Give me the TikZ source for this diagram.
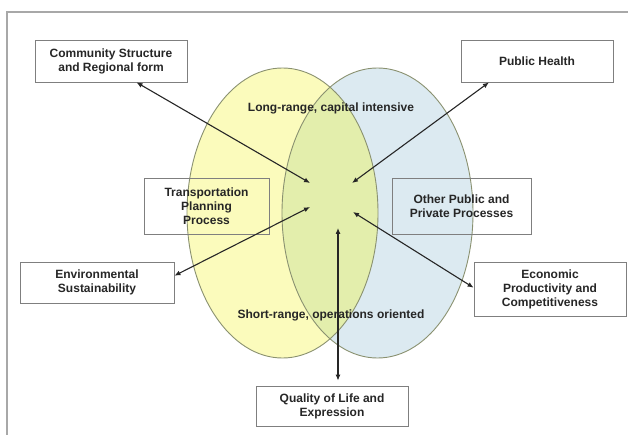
\documentclass[tikz,border=0pt]{standalone}
\usepackage{fontspec}
\setmainfont{Liberation Sans}
\usetikzlibrary{positioning, arrows.meta, calc}
\definecolor{vnyellow}{HTML}{FBFBBC}
\definecolor{vnblue}{HTML}{DCEAF1}
\definecolor{vnmix}{HTML}{E3EEAC}
\definecolor{vnedge}{HTML}{8A9170}
\definecolor{boxedge}{HTML}{7F7F7F}
\definecolor{framegray}{HTML}{A8A8A8}
\definecolor{txtdark}{HTML}{262626}

\begin{document}
\begin{tikzpicture}[x=1pt, y=-1pt,
    factor/.style={draw=boxedge, fill=white, line width=0.8pt, align=center, inner sep=2pt,
                   text=txtdark, font=\fontsize{12}{14}\selectfont\bfseries},
    process/.style={factor, fill=none},
    zone/.style={text=txtdark, font=\fontsize{12}{14}\selectfont\bfseries, inner sep=0pt},
    link/.style={draw=txtdark, line width=1.1pt,
                 {Latex[length=6pt,width=5pt]}-{Latex[length=6pt,width=5pt]}}]
    \useasboundingbox (0,0) rectangle (628,435);
    \draw[framegray, line width=1.5pt] (7,435) -- (7,12) -- (628,12);

    \fill[vnyellow] (282.5,213) ellipse [x radius=95.5pt, y radius=145pt];
    \fill[vnblue] (377.5,213) ellipse [x radius=95.5pt, y radius=145pt];
    \begin{scope}
      \clip (282.5,213) ellipse [x radius=95.5pt, y radius=145pt];
      \fill[vnmix] (377.5,213) ellipse [x radius=95.5pt, y radius=145pt];
    \end{scope}
    \draw[vnedge, line width=0.9pt] (282.5,213) ellipse [x radius=95.5pt, y radius=145pt];
    \draw[vnedge, line width=0.9pt] (377.5,213) ellipse [x radius=95.5pt, y radius=145pt];

    \node[zone] (longrange) at (331,108) {Long-range, capital intensive};
    \node[zone] (shortrange) at (331,315) {Short-range, operations oriented};

    \node[process, minimum width=125pt, minimum height=56pt] (transport) at (206.5,206)
      {Transportation\\ Planning\\ Process};
    \node[process, minimum width=139pt, minimum height=56pt] (otherproc) at (461.5,206)
      {Other Public and\\ Private Processes};

    \node[factor, minimum width=152pt, minimum height=42pt] (community) at (111,61)
      {Community Structure\\ and Regional form};
    \node[factor, minimum width=152pt, minimum height=42pt] (health) at (537,61)
      {Public Health};
    \node[factor, minimum width=154pt, minimum height=41pt] (environment) at (97,282.5)
      {Environmental\\ Sustainability};
    \node[factor, minimum width=152pt, minimum height=54pt] (economy) at (550,289)
      {Economic\\ Productivity and\\ Competitiveness};
    \node[factor, minimum width=152pt, minimum height=40pt] (quality) at (332,406)
      {Quality of Life and\\ Expression};

    \coordinate (hubnw) at (310,183);
    \coordinate (hubne) at (352,183);
    \coordinate (hubsw) at (310,207);
    \coordinate (hubse) at (353,212);
    \coordinate (hubs) at (338,228);

    \draw[link] (community.-40) -- (hubnw);
    \draw[link] (health.-156) -- (hubne);
    \draw[link] (environment.5) -- (hubsw);
    \draw[link] (economy.179) -- (hubse);
    \draw[link, shorten <=5pt] (quality.north -| hubs) -- (hubs);
  \end{tikzpicture}
\end{document}
